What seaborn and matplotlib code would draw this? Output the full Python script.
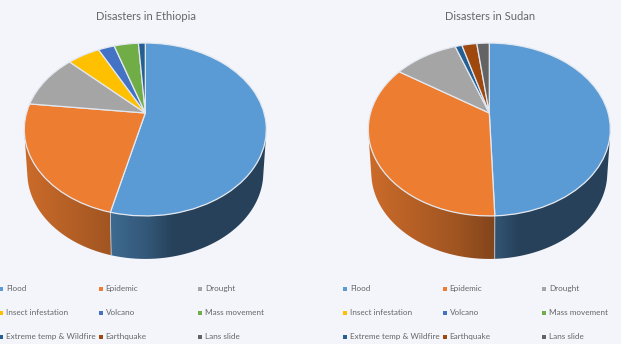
import numpy as np
import matplotlib
matplotlib.use("Agg")
import matplotlib.pyplot as plt
from matplotlib.patches import PathPatch
from matplotlib.path import Path
from matplotlib.transforms import Transform
import seaborn as sns

categories = ["Flood", "Epidemic", "Drought", "Insect infestation", "Volcano",
              "Mass movement", "Extreme temp & Wildfire", "Earthquake", "Lans slide"]
ethiopia = [53.8, 22.9, 10.4, 5.2, 2.6, 3.9, 1.1, 0.0, 0.0]
sudan = [49.4, 34.8, 10.3, 0.0, 0.0, 0.0, 1.1, 2.4, 2.0]
titles = ["Disasters in Ethiopia", "Disasters in Sudan"]
office = ["#5B9BD5", "#ED7D31", "#A5A5A5", "#FFC000", "#4472C4",
          "#70AD47", "#255E91", "#9E480E", "#636363"]

BG = "#F3F5FB"
sns.set_theme(style="white", rc={"figure.facecolor": BG, "axes.facecolor": BG})
plt.rcParams["font.family"] = ["Lato", "DejaVu Sans"]
palette = sns.color_palette(office)

TILT, SY, SX = 0.1907, 83.3, 118.8
APEX_Y, DEPTH, WALL_SCALE = 113.0, 43.0, 0.975


class Tilt(Transform):
    """Perspective view of the unit pie, in figure pixels."""
    input_dims = output_dims = 2

    def __init__(self, cx):
        super().__init__()
        self.cx = cx

    def transform_non_affine(self, xy):
        xy = np.asarray(xy, float)
        w = 1 + TILT * xy[:, 1]
        return np.column_stack([self.cx + SX * xy[:, 0] / w, APEX_Y - SY * xy[:, 1] / w])


def shade(t):
    return np.interp(t, [0, .36, .52, .62, 1], [.86, .68, .55, .42, .42])


def draw_pie(ax, values, title, cx, legend_x):
    vals = np.array(values)
    keep = vals > 0
    cols = [c for c, k in zip(palette, keep) if k]
    wedges, _ = ax.pie(vals[keep], colors=cols, startangle=90, counterclock=False, radius=1,
                       frame=True, wedgeprops=dict(edgecolor="#E3E8F0", linewidth=0.9, zorder=3))
    tilt = Tilt(cx)
    y_cut = APEX_Y + (103 - 70) / 2 + 3
    for w, col in zip(wedges, cols):
        w.set_transform(tilt + ax.transData)
        a = np.radians(np.linspace(w.theta1, w.theta2, 200))
        rim = tilt.transform(np.column_stack([np.cos(a), np.sin(a)]))
        front = rim[:, 1] >= y_cut
        if front.sum() < 2:
            continue
        top = rim[front]
        low = np.column_stack([cx + (top[:, 0] - cx) * WALL_SCALE, top[:, 1] + DEPTH])
        x0 = min(top[:, 0].min(), low[:, 0].min()) - 1
        x1 = max(top[:, 0].max(), low[:, 0].max()) + 1
        y0, y1 = top[:, 1].min() - 1, low[:, 1].max() + 1
        xs = np.linspace(x0, x1, 256)
        grad = shade((xs - (cx - 121)) / 242)[None, :, None] * np.array(col)[None, None, :]
        im = ax.imshow(np.clip(grad, 0, 1), extent=(x0, x1, y1, y0), aspect="auto",
                       interpolation="bilinear", zorder=2)
        poly = Path(np.vstack([top, low[::-1], top[:1]]), closed=True)
        clip = PathPatch(poly, transform=ax.transData, facecolor="none", edgecolor="none")
        ax.add_patch(clip)
        im.set_clip_path(clip)
        if rim[0, 1] >= y_cut:
            ax.plot([top[0, 0], low[0, 0]], [top[0, 1], low[0, 1]],
                    color="#C9D0DA", lw=0.6, zorder=2.5)
    ax.text(cx + 0.5, 16, title, ha="center", va="center", fontsize=8.0, color="#666666")
    for i, (name, col) in enumerate(zip(categories, palette)):
        row, column = divmod(i, 3)
        x = legend_x + 99.5 * column
        y = 288.5 + 24 * row
        ax.scatter([x], [y], s=5, marker="s", color=col, linewidths=0, zorder=3)
        ax.text(x + 5, y, name, ha="left", va="center", fontsize=5.9, color="#666666")


fig = plt.figure(figsize=(6.21, 3.44), dpi=100)
ax = fig.add_axes([0, 0, 1, 1])
draw_pie(ax, ethiopia, titles[0], 145.3, 1)
draw_pie(ax, sudan, titles[1], 489.3, 345)
ax.set_aspect("auto")
ax.set_xlim(0, 621)
ax.set_ylim(344, 0)
ax.axis("off")
fig.savefig("out.png", dpi=100, facecolor=BG)
